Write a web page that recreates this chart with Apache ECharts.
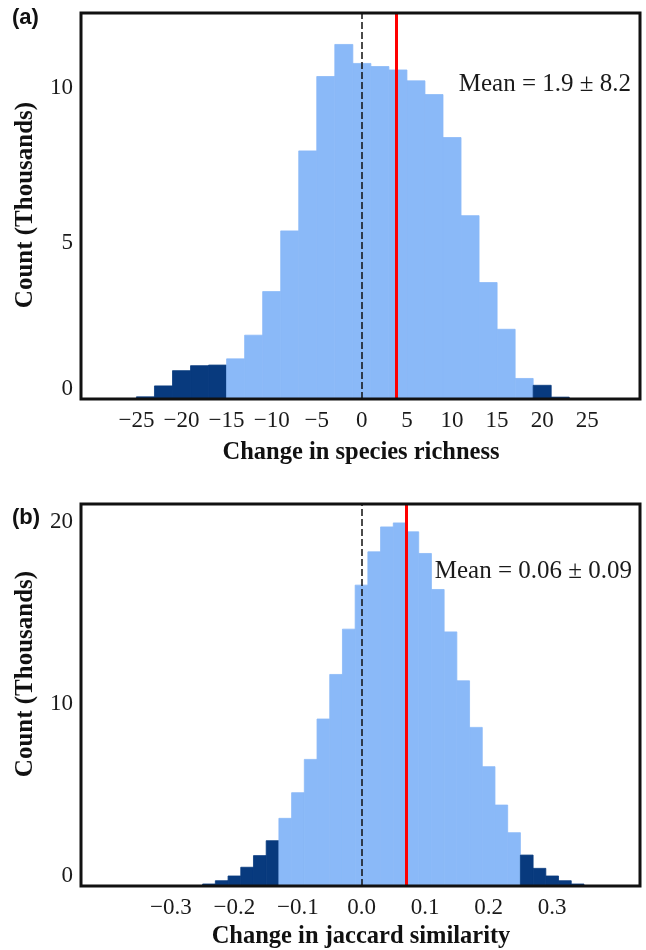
<!DOCTYPE html>
<html>
<head>
<meta charset="utf-8">
<script src="https://cdn.jsdelivr.net/npm/echarts@6/dist/echarts.min.js"></script>
<style>
  html, body { margin: 0; padding: 0; background: #fff; }
  #chart { width: 646px; height: 950px; }
</style>
</head>
<body>
<div id="chart"></div>
<script>
// panel (a): change in species richness, bin width 2
const richBins = [-24, -22, -20, -18, -16, -14, -12, -10, -8, -6, -4, -2, 0, 2, 4, 6, 8, 10, 12, 14, 16, 18, 20, 22];
const richCounts = [0.07, 0.42, 0.91, 1.07, 1.09, 1.29, 2.05, 3.45, 5.40, 7.97, 10.36, 11.39, 10.78, 10.68, 10.57, 10.22, 9.78, 8.40, 5.89, 3.74, 2.24, 0.66, 0.44, 0.06];
const richTail = [1, 1, 1, 1, 1, 0, 0, 0, 0, 0, 0, 0, 0, 0, 0, 0, 0, 0, 0, 0, 0, 0, 1, 1];
const richTicks = [-25, -20, -15, -10, -5, 0, 5, 10, 15, 20, 25];
const richYTicks = [0, 5, 10];
const richMean = 3.77;

// panel (b): change in jaccard similarity, bin width 0.02
const jacBins = [-0.24, -0.22, -0.20, -0.18, -0.16, -0.14, -0.12, -0.10, -0.08, -0.06, -0.04, -0.02, 0.00, 0.02, 0.04, 0.06, 0.08, 0.10, 0.12, 0.14, 0.16, 0.18, 0.20, 0.22, 0.24, 0.26, 0.28, 0.30, 0.32, 0.34];
const jacCounts = [0.11, 0.29, 0.55, 1.03, 1.67, 2.49, 3.72, 5.13, 6.96, 9.18, 11.63, 14.12, 16.54, 18.37, 19.74, 19.96, 19.47, 18.28, 16.30, 13.97, 11.28, 8.72, 6.56, 4.45, 2.93, 1.70, 0.97, 0.55, 0.29, 0.11];
const jacTail = [1, 1, 1, 1, 1, 1, 0, 0, 0, 0, 0, 0, 0, 0, 0, 0, 0, 0, 0, 0, 0, 0, 0, 0, 0, 1, 1, 1, 1, 1];
const jacTicks = [-0.3, -0.2, -0.1, 0.0, 0.1, 0.2, 0.3];
const jacYTicks = [0, 10, 20];
const jacMean = 0.0667;

const LIGHT = '#8AB9F8';
const DARK = '#083A7E';
const SERIF = '"Liberation Serif", "Times New Roman", serif';

const fmtMinus = (s) => String(s).replace('-', '\u2212');

// histogram bars drawn through the axis scales
const histSeries = (idx, bins, counts, tail, width) => ({
  type: 'custom',
  xAxisIndex: idx,
  yAxisIndex: idx,
  data: bins.map((b, i) => [b, counts[i], tail[i]]),
  renderItem: function (params, api) {
    let x = api.value(0);
    let p0 = api.coord([x - width / 2, 0]);
    let p1 = api.coord([x + width / 2, api.value(1)]);
    let c = api.value(2) ? DARK : LIGHT;
    return {
      type: 'rect',
      shape: { x: p0[0], y: p1[1], width: p1[0] - p0[0], height: p0[1] - p1[1] },
      style: { fill: c, stroke: c, lineWidth: 0.8 }
    };
  },
  z: 1
});

const refLines = (idx, mean) => ({
  type: 'line',
  xAxisIndex: idx,
  yAxisIndex: idx,
  data: [],
  z: 5,
  markLine: {
    silent: true,
    symbol: 'none',
    label: { show: false },
    animation: false,
    emphasis: { disabled: true },
    data: [
      { xAxis: 0, lineStyle: { color: '#111', width: 1.5, type: [7, 3], opacity: 1 } },
      { xAxis: mean, lineStyle: { color: '#FF0000', width: 3, type: 'solid', opacity: 1 } }
    ]
  }
});

const xAxisOf = (idx, min, max, ticks, fmt) => ({
  type: 'value',
  gridIndex: idx,
  min: min,
  max: max,
  axisLine: { show: false },
  axisTick: { show: false },
  splitLine: { show: false },
  axisLabel: {
    customValues: ticks,
    formatter: fmt,
    color: '#1a1a1a',
    fontFamily: SERIF,
    fontSize: 23,
    margin: 10
  }
});

const yAxisOf = (idx, max, ticks) => ({
  type: 'value',
  gridIndex: idx,
  min: 0,
  max: max,
  axisLine: { show: false },
  axisTick: { show: false },
  splitLine: { show: false },
  axisLabel: {
    customValues: ticks,
    formatter: (v) => (v === 0 ? '{z|0}' : String(v)),
    rich: { z: { fontFamily: SERIF, fontSize: 23, color: '#1a1a1a', padding: [0, 0, 20, 0] } },
    color: '#1a1a1a',
    fontFamily: SERIF,
    fontSize: 23,
    margin: 8
  }
});

const option = {
  animation: false,
  backgroundColor: '#fff',
  grid: [
    { left: 81, top: 13, width: 559, height: 386, show: true, borderColor: '#111', borderWidth: 3, backgroundColor: 'transparent', z: 10 },
    { left: 81, top: 504, width: 559, height: 382, show: true, borderColor: '#111', borderWidth: 3, backgroundColor: 'transparent', z: 10 }
  ],
  xAxis: [
    xAxisOf(0, -31.15, 30.85, richTicks, (v) => fmtMinus(v)),
    xAxisOf(1, -0.4414, 0.4382, jacTicks, (v) => fmtMinus(v.toFixed(1)))
  ],
  yAxis: [
    yAxisOf(0, 12.4, richYTicks),
    yAxisOf(1, 21, jacYTicks)
  ],
  series: [
    histSeries(0, richBins, richCounts, richTail, 2),
    histSeries(1, jacBins, jacCounts, jacTail, 0.02),
    refLines(0, richMean),
    refLines(1, jacMean)
  ],
  graphic: [
    { type: 'text', left: 12, top: 7, style: { text: '(a)', font: 'bold 22px "Liberation Sans", Arial, sans-serif', fill: '#111' } },
    { type: 'text', left: 12, top: 507, style: { text: '(b)', font: 'bold 22px "Liberation Sans", Arial, sans-serif', fill: '#111' } },
    { type: 'text', x: 26, y: 205, rotation: Math.PI / 2, style: { text: 'Count (Thousands)', font: 'bold 25px "Liberation Serif", serif', fill: '#111', align: 'center', verticalAlign: 'middle' } },
    { type: 'text', x: 26, y: 674, rotation: Math.PI / 2, style: { text: 'Count (Thousands)', font: 'bold 25px "Liberation Serif", serif', fill: '#111', align: 'center', verticalAlign: 'middle' } },
    { type: 'text', x: 361, y: 453, style: { text: 'Change in species richness', font: 'bold 24.5px "Liberation Serif", serif', fill: '#111', align: 'center', verticalAlign: 'middle' } },
    { type: 'text', x: 361, y: 937, style: { text: 'Change in jaccard similarity', font: 'bold 24.5px "Liberation Serif", serif', fill: '#111', align: 'center', verticalAlign: 'middle' } },
    { type: 'text', x: 631, y: 84, z: 20, style: { text: 'Mean = 1.9 \u00b1 8.2', font: '25px "Liberation Serif", serif', fill: '#1a1a1a', align: 'right', verticalAlign: 'middle' } },
    { type: 'text', x: 632, y: 571, z: 20, style: { text: 'Mean = 0.06 \u00b1 0.09', font: '25px "Liberation Serif", serif', fill: '#1a1a1a', align: 'right', verticalAlign: 'middle' } }
  ]
};

const chart = echarts.init(document.getElementById('chart'));
chart.setOption(option);
</script>
</body>
</html>
